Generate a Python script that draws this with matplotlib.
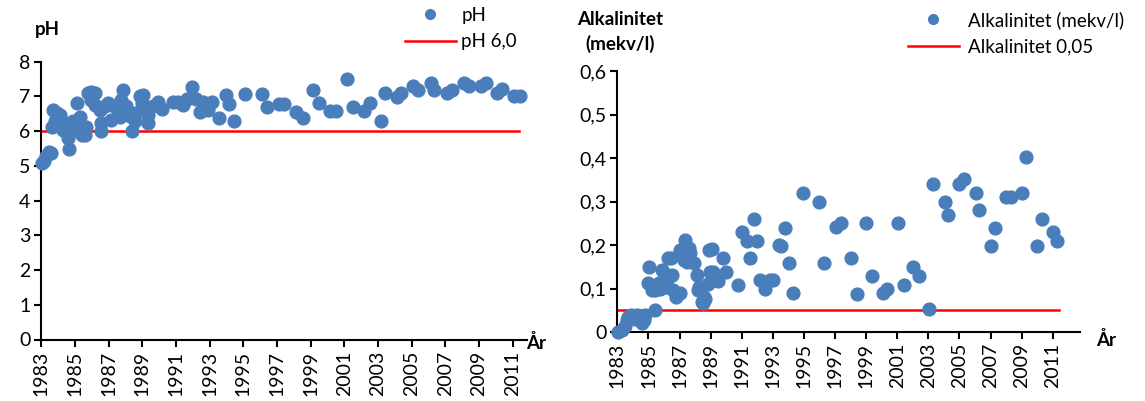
"""
pH og alkalinitet over tid
"""
import matplotlib.pyplot as plt
from matplotlib.lines import Line2D

plt.rcParams['font.family'] = ['Lato', 'DejaVu Sans']

# --- data ---
ph_year = [1983.05, 1983.15, 1983.3, 1983.45, 1983.55, 1983.7, 1983.65, 1983.8,
           1983.9, 1984.0, 1984.1, 1984.2, 1984.3, 1984.5, 1984.6, 1984.62,
           1984.9, 1984.9, 1985.1, 1985.07, 1985.3, 1985.4, 1985.6, 1985.67,
           1985.77, 1985.97, 1986.17, 1985.97, 1986.17, 1986.46, 1986.56, 1986.56,
           1986.76, 1986.96, 1987.15, 1987.3, 1987.55, 1987.75, 1987.85, 1987.65,
           1988.05, 1988.15, 1988.25, 1988.37, 1988.56, 1988.56, 1988.86, 1989.05,
           1988.96, 1989.16, 1989.35, 1989.35, 1989.65, 1989.95, 1990.15, 1990.84,
           1991.14, 1991.43, 1991.63, 1991.93, 1992.19, 1992.42, 1992.58, 1992.92,
           1993.12, 1993.57, 1993.97, 1994.17, 1994.46, 1995.1, 1996.09, 1996.42,
           1997.12, 1997.43, 1998.13, 1998.53, 1999.16, 1999.51, 2000.15, 2000.5,
           2001.18, 2001.53, 2002.17, 2002.52, 2003.16, 2003.43, 2004.15, 2004.35,
           2005.1, 2005.4, 2006.13, 2006.35, 2007.08, 2007.38, 2008.11, 2008.41,
           2009.1, 2009.42, 2010.09, 2010.39, 2011.1, 2011.44]
ph_value = [5.08, 5.15, 5.27, 5.40, 5.38, 6.61, 6.13, 6.28,
            6.52, 6.18, 6.47, 6.30, 6.04, 5.94, 5.80, 5.50,
            6.04, 6.28, 6.81, 6.04, 6.42, 5.90, 5.90, 6.13,
            7.09, 7.14, 7.09, 6.90, 6.76, 6.61, 6.23, 5.99,
            6.71, 6.81, 6.33, 6.71, 6.61, 6.90, 7.19, 6.42,
            6.71, 6.52, 6.45, 5.99, 6.28, 6.52, 7.00, 7.05,
            6.81, 6.61, 6.47, 6.23, 6.71, 6.85, 6.63, 6.85,
            6.83, 6.76, 6.92, 7.27, 6.92, 6.54, 6.83, 6.61,
            6.85, 6.37, 7.05, 6.79, 6.28, 7.07, 7.07, 6.69,
            6.79, 6.79, 6.56, 6.39, 7.19, 6.81, 6.59, 6.59,
            7.50, 6.69, 6.59, 6.81, 6.30, 7.09, 6.98, 7.09,
            7.31, 7.19, 7.40, 7.19, 7.09, 7.19, 7.40, 7.31,
            7.31, 7.40, 7.09, 7.21, 7.00, 7.00]

alk_year = [1983.04, 1983.3, 1983.47, 1983.6, 1983.7, 1983.9, 1984.1, 1984.26,
            1984.47, 1984.58, 1984.7, 1984.8, 1985.4, 1985.05, 1985.0, 1985.2,
            1985.4, 1985.87, 1985.97, 1986.19, 1985.65, 1985.76, 1986.1, 1986.5,
            1986.6, 1986.8, 1987.0, 1986.25, 1986.47, 1987.05, 1987.37, 1987.58,
            1987.7, 1987.26, 1987.5, 1987.9, 1988.1, 1988.27, 1988.2, 1988.44,
            1988.65, 1988.5, 1988.6, 1988.8, 1988.87, 1988.97, 1989.1, 1989.17,
            1989.5, 1989.8, 1989.98, 1990.74, 1990.99, 1991.35, 1991.5, 1991.78,
            1991.99, 1992.2, 1992.5, 1992.8, 1993.0, 1993.4, 1993.5, 1993.8,
            1994.05, 1994.3, 1994.96, 1995.96, 1996.3, 1997.06, 1997.36, 1998.0,
            1998.4, 1999.0, 1999.35, 2000.06, 2000.36, 2001.06, 2001.4, 2002.0,
            2002.4, 2003.06, 2003.28, 2004.07, 2004.28, 2005.0, 2005.29, 2006.04,
            2006.25, 2007.0, 2007.28, 2008.0, 2008.3, 2009.04, 2009.28, 2010.0,
            2010.3, 2011.0, 2011.3]
alk_value = [0.0, 0.005, 0.014, 0.028, 0.035, 0.039, 0.030, 0.039,
             0.035, 0.020, 0.028, 0.039, 0.050, 0.150, 0.112, 0.097,
             0.097, 0.143, 0.135, 0.120, 0.112, 0.100, 0.104, 0.131,
             0.097, 0.081, 0.089, 0.169, 0.169, 0.189, 0.211, 0.192,
             0.181, 0.166, 0.162, 0.158, 0.131, 0.104, 0.097, 0.070,
             0.077, 0.066, 0.081, 0.110, 0.189, 0.139, 0.190, 0.139,
             0.118, 0.169, 0.139, 0.109, 0.230, 0.210, 0.169, 0.260,
             0.210, 0.120, 0.098, 0.120, 0.120, 0.199, 0.198, 0.240,
             0.159, 0.089, 0.320, 0.300, 0.159, 0.241, 0.250, 0.169,
             0.087, 0.250, 0.129, 0.090, 0.099, 0.250, 0.109, 0.149,
             0.129, 0.052, 0.340, 0.300, 0.270, 0.340, 0.351, 0.320,
             0.280, 0.198, 0.240, 0.310, 0.310, 0.320, 0.402, 0.198,
             0.260, 0.230, 0.210]

ph_limit = 6.0
alk_limit = 0.05
limit_span = [1983, 2011.4]

year_ticks = list(range(1983, 2012, 2))
ph_ticks = [0, 1, 2, 3, 4, 5, 6, 7, 8]
alk_ticks = [0, 0.1, 0.2, 0.3, 0.4, 0.5, 0.6]
alk_ticklabels = ['0', '0,1', '0,2', '0,3', '0,4', '0,5', '0,6']

BLUE = '#4A7EBB'
W, H = 1145, 401
FS = 14
LFS = 13.5

fig = plt.figure(figsize=(W / 100, H / 100), dpi=100)


def px_axes(x0, y0, x1, y1):
    return fig.add_axes([x0 / W, 1 - y1 / H, (x1 - x0) / W, (y1 - y0) / H])


def style(ax):
    for s in ['top', 'right']:
        ax.spines[s].set_visible(False)
    for s in ['left', 'bottom']:
        ax.spines[s].set_linewidth(1.5)
        ax.spines[s].set_color('black')
    ax.tick_params(direction='out', length=5, width=1.5, labelsize=FS, pad=3)
    ax.set_xticks(year_ticks)
    ax.set_xticklabels([str(y) for y in year_ticks], rotation=90)


def legend(ax, labels, x, y, pad):
    handles = [Line2D([], [], ls='none', marker='o', color=BLUE, markersize=7),
               Line2D([], [], color='red', lw=1.8)]
    ax.legend(handles, labels, loc='upper left', frameon=False,
              bbox_to_anchor=(x / W, 1 - y / H), bbox_transform=fig.transFigure,
              borderpad=0, borderaxespad=0, handlelength=2.7,
              handletextpad=pad, labelspacing=0.5, fontsize=LFS)


# left: pH
ax1 = px_axes(41.4, 61.7, 526.6, 339.5)
ax1.scatter(ph_year, ph_value, s=85, color=BLUE, zorder=3, clip_on=False)
ax1.plot(limit_span, [ph_limit, ph_limit], color='red', lw=1.8)
ax1.set_xlim(1983, 2011.83)
ax1.set_ylim(0, 8)
ax1.set_yticks(ph_ticks)
style(ax1)
legend(ax1, ['pH', 'pH 6,0'], 405, 7, 0.3)
fig.text(35 / W, 1 - 30 / H, 'pH', fontsize=LFS, fontweight='bold', va='center')
fig.text(526 / W, 1 - 343 / H, 'År', fontsize=LFS, fontweight='bold', va='center')

# right: alkalinitet
ax2 = px_axes(617.4, 71, 1080, 332)
ax2.scatter(alk_year, alk_value, s=85, color=BLUE, zorder=3, clip_on=False)
ax2.plot(limit_span, [alk_limit, alk_limit], color='red', lw=1.8)
ax2.set_xlim(1983, 2012.75)
ax2.set_ylim(0, 0.6)
ax2.set_yticks(alk_ticks)
ax2.set_yticklabels(alk_ticklabels)
style(ax2)
legend(ax2, ['Alkalinitet (mekv/l)', 'Alkalinitet 0,05'], 908, 11, 0.5)
fig.text(620 / W, 1 - 32 / H, 'Alkalinitet\n(mekv/l)', fontsize=LFS,
         fontweight='bold', ha='center', va='center', linespacing=1.45)
fig.text(1096 / W, 1 - 340 / H, 'År', fontsize=LFS, fontweight='bold', va='center')

fig.savefig('out.png', dpi=100)
